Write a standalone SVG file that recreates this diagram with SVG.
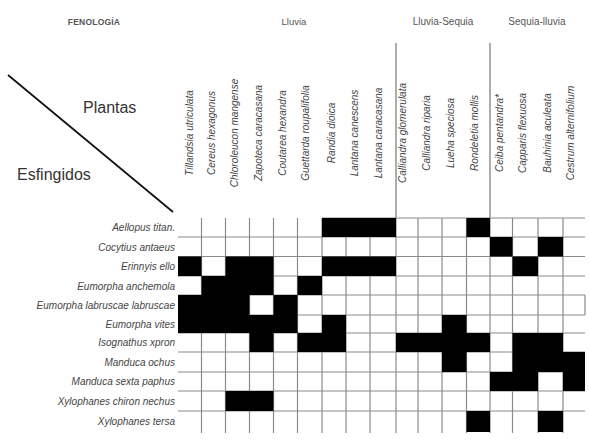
<svg xmlns="http://www.w3.org/2000/svg" width="589" height="443" viewBox="0 0 589 443">
<style>
.hdr{font-family:"Liberation Sans",Arial,sans-serif;fill:#555;text-anchor:middle}
.big{font-family:"Liberation Sans",Arial,sans-serif;font-size:16px;fill:#333}
.col{font-family:"Liberation Sans",Arial,sans-serif;font-size:10px;font-style:italic;fill:#444;text-anchor:middle}
.row{font-family:"Liberation Sans",Arial,sans-serif;font-size:10px;font-style:italic;fill:#444;text-anchor:end}
.g{stroke:#8a8a8a;stroke-width:1.2;fill:none}
.d{stroke:#777;stroke-width:1.2}
.b{fill:#000}
</style>
<rect width="589" height="443" fill="#fff"/>
<g id="headers">
<text class="hdr" x="94" y="25" font-size="8.5" font-weight="bold" fill="#666" letter-spacing="0.2">FENOLOGÍA</text>
<text class="hdr" x="294" y="25" font-size="9.5">Lluvia</text>
<text class="hdr" x="443" y="25" font-size="10">Lluvia-Sequia</text>
<text class="hdr" x="537" y="25" font-size="10">Sequia-lluvia</text>
</g>
<g id="corner">
<text class="big" x="83" y="113">Plantas</text>
<text class="big" x="17" y="180">Esfingidos</text>
</g>
<g id="columns">
<text class="col" transform="translate(193,133) rotate(-90)">Tillandsia utriculata</text>
<text class="col" transform="translate(214.5,133) rotate(-90)">Cereus hexagonus</text>
<text class="col" transform="translate(238,133) rotate(-90)">Chloroleucon mangense</text>
<text class="col" transform="translate(261.5,133) rotate(-90)">Zapoteca caracasana</text>
<text class="col" transform="translate(285.5,133) rotate(-90)">Coutarea hexandra</text>
<text class="col" transform="translate(308.5,133) rotate(-90)">Guettarda roupalifolia</text>
<text class="col" transform="translate(335,133) rotate(-90)">Randia dioica</text>
<text class="col" transform="translate(358,133) rotate(-90)">Lantana canescens</text>
<text class="col" transform="translate(381.5,133) rotate(-90)">Lantana caracasana</text>
<text class="col" transform="translate(406,133) rotate(-90)">Calliandra glomerulata</text>
<text class="col" transform="translate(430,133) rotate(-90)">Calliandra riparia</text>
<text class="col" transform="translate(453.5,133) rotate(-90)">Lueha speciosa</text>
<text class="col" transform="translate(478,133) rotate(-90)">Rondeletia mollis</text>
<text class="col" transform="translate(503,133) rotate(-90)">Ceiba pentandra*</text>
<text class="col" transform="translate(525.5,133) rotate(-90)">Capparis flexuosa</text>
<text class="col" transform="translate(551,133) rotate(-90)">Bauhinia aculeata</text>
<text class="col" transform="translate(573.5,133) rotate(-90)">Cestrum alternifolium</text>
</g>
<g id="rows">
<text class="row" x="175" y="231">Aellopus titan.</text>
<text class="row" x="175" y="250.5">Cocytius antaeus</text>
<text class="row" x="175" y="270">Erinnyis ello</text>
<text class="row" x="175" y="289.5">Eumorpha anchemola</text>
<text class="row" x="175" y="309">Eumorpha labruscae labruscae</text>
<text class="row" x="175" y="327.5">Eumorpha vites</text>
<text class="row" x="175" y="346">Isognathus xpron</text>
<text class="row" x="175" y="365.5">Manduca ochus</text>
<text class="row" x="175" y="385">Manduca sexta paphus</text>
<text class="row" x="175" y="404.5">Xylophanes chiron nechus</text>
<text class="row" x="175" y="425">Xylophanes tersa</text>
</g>
<g id="connectors">
<line x1="8" y1="75" x2="173" y2="212" stroke="#111" stroke-width="1.7"/>
<line class="d" x1="396" y1="43" x2="396" y2="218"/>
<line class="d" x1="490" y1="43" x2="490" y2="218"/>
</g>
<g id="grid" class="g">
<path d="M201.5 218V433M225.5 218V433M249.5 218V433M273.5 218V433M297.5 218V433M322 218V433M346 218V433M370 218V433M396 218V433M418 218V433M442 218V433M466.5 218V433M490 218V433M512.5 218V433M538 218V433M563 218V433"/>
<path d="M178 237H585M178 256.5H585M178 276H585M178 295H585M178 315H585M178 333H585M178 352H585M178 372H585M178 391H585M178 411H585"/>
<path d="M322 218H585M585 295V315"/>
</g>
<g id="cells" class="b">
<rect x="322" y="218" width="74" height="19"/>
<rect x="466.5" y="218" width="23.5" height="19"/>
<rect x="490" y="237" width="22.5" height="19.5"/>
<rect x="538" y="237" width="25" height="19.5"/>
<rect x="178" y="256.5" width="23.5" height="19.5"/>
<rect x="225.5" y="256.5" width="48" height="19.5"/>
<rect x="322" y="256.5" width="74" height="19.5"/>
<rect x="512.5" y="256.5" width="25.5" height="19.5"/>
<rect x="201.5" y="276" width="72" height="19"/>
<rect x="297.5" y="276" width="24.5" height="19"/>
<rect x="178" y="295" width="71.5" height="20"/>
<rect x="273.5" y="295" width="24" height="20"/>
<rect x="178" y="315" width="119.5" height="18"/>
<rect x="322" y="315" width="24" height="18"/>
<rect x="442" y="315" width="24.5" height="18"/>
<rect x="249.5" y="333" width="24" height="19"/>
<rect x="297.5" y="333" width="48.5" height="19"/>
<rect x="396" y="333" width="94" height="19"/>
<rect x="512.5" y="333" width="50.5" height="19"/>
<rect x="442" y="352" width="24.5" height="20"/>
<rect x="512.5" y="352" width="72.5" height="20"/>
<rect x="490" y="372" width="48" height="19"/>
<rect x="563" y="372" width="22" height="19"/>
<rect x="225.5" y="391" width="48" height="20"/>
<rect x="466.5" y="411" width="23.5" height="21"/>
<rect x="538" y="411" width="25" height="21"/>
</g>
</svg>
